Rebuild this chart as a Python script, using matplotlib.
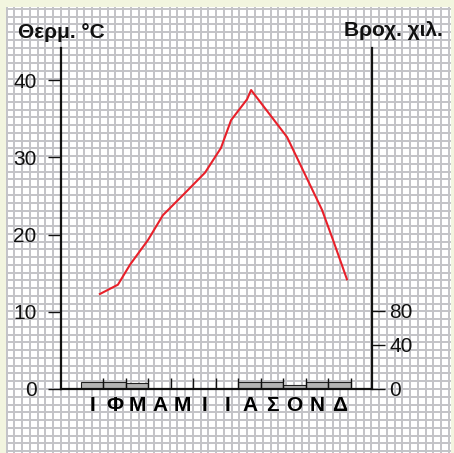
import numpy as np
import matplotlib
matplotlib.use("Agg")
import matplotlib.pyplot as plt

plt.rcParams['font.family'] = ['Liberation Sans', 'DejaVu Sans']

# ---- data ----
months = ["Ι", "Φ", "Μ", "Α", "Μ", "Ι", "Ι", "Α", "Σ", "Ο", "Ν", "Δ"]
rain_mm = [6, 6, 5, 0, 0, 0, 0, 6, 6, 4, 6, 6]
# temperature curve vertices (x in month units from start of year, °C)
temp_x = [0.84, 1.64, 2.18, 2.98, 3.64, 4.53, 5.51, 6.22, 6.67, 7.38, 7.56, 9.16, 10.71, 11.2, 11.82]
temp_c = [12.3, 13.5, 16.1, 19.3, 22.5, 25.1, 28.0, 31.2, 34.8, 37.5, 38.7, 32.6, 23.2, 19.3, 14.2]
temp_ticks = [0, 10, 20, 30, 40]
rain_ticks = [0, 40, 80]
# rain axis tick placement relative to temperature axis (as drawn in the original)
rain_ref_mm = [-1000, 0, 40, 80, 1000]
rain_ref_c = [-100 * 0.1425, 0, 5.7, 10.1, 10.1 + 920 * 0.11]

W, H = 454, 453
fig = plt.figure(figsize=(W / 100, H / 100), dpi=100)
fig.patch.set_facecolor('#f2f5df')

# graph-paper background
bg = fig.add_axes([0, 0, 1, 1])
bg.set_xlim(0, W)
bg.set_ylim(H, 0)
bg.axis('off')
bg.add_patch(plt.Rectangle((6, 7), 445, H - 7, facecolor='white', edgecolor='none'))
step = 7.76
x0, y0 = 61, 389
xs = x0 + step * np.arange(-7, 60)
xs = xs[(xs >= 6) & (xs <= 451)]
ys = y0 + step * np.arange(-60, 10)
ys = ys[(ys >= 7) & (ys <= H)]
bg.vlines(xs, 7, H, colors='#c3c3c7', linewidth=1.4)
bg.hlines(ys, 6, 451, colors='#c3c3c7', linewidth=1.4)

# main axes: pixel geometry
left_px, right_px = 61, 372
top_px, bot_px = 48, 389
rect = [left_px / W, 1 - bot_px / H, (right_px - left_px) / W, (bot_px - top_px) / H]
m0, m12 = 81, 351
mw = (m12 - m0) / 12
xlim = ((left_px - m0) / mw, (right_px - m0) / mw)
ytop = (bot_px - top_px) / 7.725

# rain axis (drawn underneath)
def fwd(v):
    return np.interp(v, rain_ref_mm, rain_ref_c)

def inv(v):
    return np.interp(v, rain_ref_c, rain_ref_mm)

ax2 = fig.add_axes(rect)
ax2.set_facecolor('none')
ax2.set_yscale('function', functions=(fwd, inv))
ax2.set_ylim(0, inv(ytop))
ax2.set_xlim(xlim)
for s in ['top', 'left', 'bottom']:
    ax2.spines[s].set_visible(False)
ax2.spines['right'].set_linewidth(1.6)
ax2.spines['right'].set_color('#111111')
ax2.yaxis.tick_right()
ax2.set_xticks([])
ax2.set_yticks(rain_ticks)
ax2.set_yticklabels([str(t) for t in rain_ticks])
ax2.yaxis.set_minor_locator(matplotlib.ticker.NullLocator())
ax2.tick_params(axis='y', direction='out', length=9.5, width=1.0, pad=3, labelsize=15, colors='#111111')
ax2.bar(np.arange(12) + 0.5, rain_mm, width=1.0, color='#b4b4b4', edgecolor='#222222', linewidth=0.8, zorder=3)

# temperature axis on top
ax = fig.add_axes(rect)
ax.set_facecolor('none')
ax.set_xlim(xlim)
ax.set_ylim(0, ytop)
for s in ['top', 'right']:
    ax.spines[s].set_visible(False)
for s in ['left', 'bottom']:
    ax.spines[s].set_linewidth(1.6)
    ax.spines[s].set_color('#111111')

ax.set_yticks(temp_ticks)
ax.tick_params(axis='y', direction='out', length=9.5, width=1.0, pad=8, labelsize=15, colors='#111111')

# month boundaries as ticks, labels at month centres
ax.set_xticks(np.arange(1, 13))
ax.set_xticklabels([])
ax.tick_params(axis='x', which='major', direction='in', length=8, width=1.0, colors='#111111')
ax.set_xticks(np.arange(12) + 0.5, minor=True)
ax.set_xticklabels(months, minor=True, fontweight='bold', fontsize=15)
ax.tick_params(axis='x', which='minor', length=0, pad=5)

ax.plot(temp_x, temp_c, color='#e8202a', linewidth=1.5, zorder=5)

fig.text(18 / W, 1 - 32 / H, "Θερμ. °C", fontsize=15, fontweight='bold', va='center', ha='left', color='#111111')
fig.text(443 / W, 1 - 30 / H, "Βροχ. χιλ.", fontsize=15, fontweight='bold', va='center', ha='right', color='#111111')

fig.savefig('out.png', dpi=100, facecolor=fig.get_facecolor())
